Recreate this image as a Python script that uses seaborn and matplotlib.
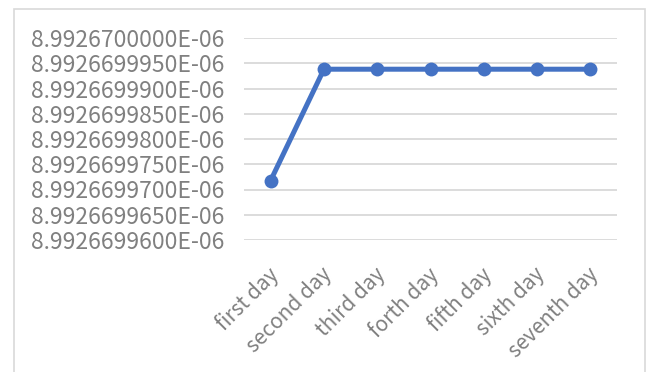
import matplotlib
matplotlib.use("Agg")
import matplotlib.pyplot as plt
import matplotlib.transforms as mtransforms
import seaborn as sns
import pandas as pd
from matplotlib.patches import Rectangle
from matplotlib.ticker import FixedLocator, FuncFormatter

days = ["first day", "second day", "third day", "forth day",
        "fifth day", "sixth day", "seventh day"]
values = [8.99266997177e-06, 8.99266999382e-06, 8.99266999382e-06,
          8.99266999382e-06, 8.99266999382e-06, 8.99266999382e-06,
          8.99266999382e-06]
y_ticks = [8.99266996e-06, 8.992669965e-06, 8.99266997e-06, 8.992669975e-06,
           8.99266998e-06, 8.992669985e-06, 8.99266999e-06, 8.992669995e-06,
           8.99267e-06]

sns.set_theme(style="white")
plt.rcParams["font.family"] = ["Noto Sans CJK SC", "DejaVu Sans"]

df = pd.DataFrame({"day": days, "value": values})

W, H = 648, 372
fig = plt.figure(figsize=(W / 100, H / 100), dpi=100)
ax = fig.add_axes([244 / W, 1 - 240 / H, (617 - 244) / W, (240 - 38) / H])

blue = "#4472C4"
sns.lineplot(data=df, x="day", y="value", ax=ax, color=blue, linewidth=3.6,
             marker="o", markersize=10, markeredgewidth=0, sort=False)

ax.set_xlim(-0.5, len(days) - 0.5)
ax.set_ylim(y_ticks[0], y_ticks[-1])
ax.yaxis.set_major_locator(FixedLocator(y_ticks))
ax.yaxis.set_major_formatter(FuncFormatter(lambda v, p: f"{v:.10E}"))
ax.grid(axis="y", color="#d9d9d9", linewidth=1.3)
ax.grid(axis="x", visible=False)
ax.set_axisbelow(True)
for s in ax.spines.values():
    s.set_visible(False)
ax.set_xlabel("")
ax.set_ylabel("")

label_color = "#808080"
ax.tick_params(axis="y", length=0, pad=14, labelsize=16.5, labelcolor=label_color)
ax.tick_params(axis="x", length=0, pad=17, labelsize=15, labelcolor=label_color)
ax.set_xticks(range(len(days)))
ax.set_xticklabels(days, rotation=45, ha="right", rotation_mode="anchor")
shift = mtransforms.ScaledTranslation(-3 / 100, 0, fig.dpi_scale_trans)
for lbl in ax.get_xticklabels():
    lbl.set_transform(lbl.get_transform() + shift)

# Chart-area border
fig.patches.append(Rectangle((14 / W, -0.05), (645 - 14) / W, 1.05 - 9 / H,
                             transform=fig.transFigure, fill=False,
                             edgecolor="#d9d9d9", linewidth=1.2))

fig.savefig("out.png", dpi=100, facecolor="white")
